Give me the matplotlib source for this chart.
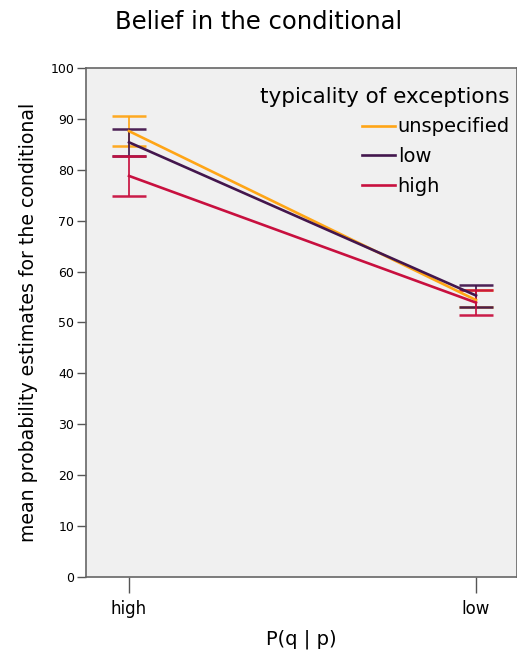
import matplotlib.pyplot as plt

# P(q|p) condition on x axis
conditions = ['high', 'low']
groups = ['unspecified', 'low', 'high']
colors = ['#ffa516', '#43164d', '#c8103f']

# mean estimates and 95% CI bounds, per group (high, low)
means = {'unspecified': [87.6, 54.4], 'low': [85.4, 55.3], 'high': [78.8, 53.9]}
ci_low = {'unspecified': [84.7, 53.0], 'low': [82.7, 53.1], 'high': [74.9, 51.5]}
ci_high = {'unspecified': [90.6, 56.3], 'low': [88.0, 57.4], 'high': [82.7, 56.3]}

fig = plt.figure(figsize=(5.17, 6.57), dpi=100)
ax = fig.add_axes([0.1663, 0.1218, 0.8337, 0.7747])
ax.set_facecolor('#f0f0f0')

x = range(len(conditions))
for g, c in zip(groups, colors):
    m = means[g]
    err = [[a - b for a, b in zip(m, ci_low[g])], [b - a for a, b in zip(m, ci_high[g])]]
    ax.errorbar(x, m, yerr=err, fmt='none', ecolor=c, elinewidth=1.3,
                capsize=12.5, capthick=1.8, alpha=0.95)
for g, c in zip(groups, colors):
    ax.plot(x, means[g], color=c, lw=1.9, label=g)

ax.set_xlim(-0.124, 1.118)
ax.set_ylim(0, 100)
ax.set_xticks(list(x))
ax.set_xticklabels(conditions)
ax.set_yticks(range(0, 101, 10))
ax.tick_params(axis='y', length=6.5, width=1, color='#555555', labelsize=9, pad=2)
ax.tick_params(axis='x', length=11.5, width=1, color='#555555', labelsize=12, pad=5)
for s in ax.spines.values():
    s.set_color('#666666')
    s.set_linewidth(1.2)

ax.set_xlabel('P(q | p)', fontsize=14, labelpad=8)
ax.set_ylabel('mean probability estimates for the conditional', fontsize=13.6, labelpad=9)
fig.suptitle('Belief in the conditional', fontsize=17.5, y=0.985)

leg = ax.legend(loc='upper right', frameon=False, title='typicality of exceptions',
                title_fontsize=15.5, fontsize=14, handlelength=1.7, handletextpad=0.15,
                labelspacing=0.55, alignment='right', borderaxespad=0.3,
                bbox_to_anchor=(1.015, 0.99))

fig.savefig('out.png', dpi=100)
